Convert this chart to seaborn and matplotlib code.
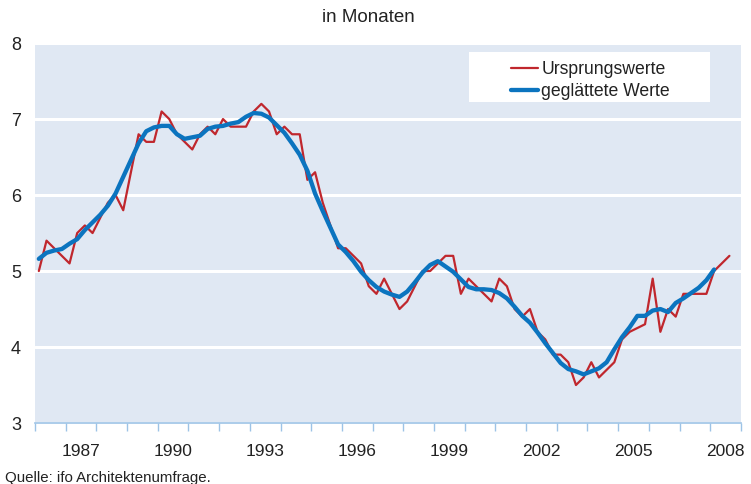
import numpy as np
import pandas as pd
import matplotlib
matplotlib.use('Agg')
import matplotlib.pyplot as plt
import seaborn as sns
from matplotlib.patches import Rectangle

# quarterly values, 1986 Q1 .. 2008 Q3 (raw) / 2008 Q1 (smoothed)
start_year = 1986
ursprung = [5.0, 5.4, 5.3, 5.2, 5.1, 5.5, 5.6, 5.5, 5.7, 5.9,
            6.0, 5.8, 6.3, 6.8, 6.7, 6.7, 7.1, 7.0, 6.8, 6.7,
            6.6, 6.8, 6.9, 6.8, 7.0, 6.9, 6.9, 6.9, 7.1, 7.2,
            7.1, 6.8, 6.9, 6.8, 6.8, 6.2, 6.3, 5.9, 5.6, 5.3,
            5.3, 5.2, 5.1, 4.8, 4.7, 4.9, 4.7, 4.5, 4.6, 4.8,
            5.0, 5.0, 5.1, 5.2, 5.2, 4.7, 4.9, 4.8, 4.7, 4.6,
            4.9, 4.8, 4.5, 4.4, 4.5, 4.2, 4.1, 3.9, 3.9, 3.8,
            3.5, 3.6, 3.8, 3.6, 3.7, 3.8, 4.1, 4.2, 4.25, 4.3,
            4.9, 4.2, 4.5, 4.4, 4.7, 4.7, 4.7, 4.7, 5.0, 5.1, 5.2]
geglaettet = [5.16, 5.24, 5.27, 5.29, 5.36, 5.42, 5.54, 5.64, 5.74, 5.86,
              6.02, 6.24, 6.46, 6.68, 6.84, 6.89, 6.91, 6.91, 6.80, 6.74,
              6.76, 6.78, 6.87, 6.90, 6.91, 6.94, 6.96, 7.03, 7.08, 7.07,
              7.02, 6.92, 6.82, 6.68, 6.53, 6.32, 6.02, 5.79, 5.57, 5.35,
              5.25, 5.13, 4.99, 4.88, 4.79, 4.73, 4.69, 4.66, 4.73, 4.85,
              4.98, 5.08, 5.13, 5.06, 4.99, 4.89, 4.79, 4.76, 4.76, 4.75,
              4.71, 4.64, 4.53, 4.41, 4.32, 4.19, 4.05, 3.92, 3.79, 3.71,
              3.68, 3.64, 3.68, 3.72, 3.80, 3.97, 4.13, 4.26, 4.41, 4.41,
              4.48, 4.50, 4.46, 4.58, 4.64, 4.71, 4.78, 4.88, 5.02]
year_labels = ['1987', '1990', '1993', '1996', '1999', '2002', '2005', '2008']
y_ticks = [3, 4, 5, 6, 7, 8]

# quarter mid points
t_raw = [start_year + (i + 0.5) / 4 for i in range(len(ursprung))]
t_smooth = [start_year + (i + 0.5) / 4 for i in range(len(geglaettet))]
df_raw = pd.DataFrame({'t': t_raw, 'v': ursprung})
df_smooth = pd.DataFrame({'t': t_smooth, 'v': geglaettet})

sns.set_style('darkgrid', {'axes.facecolor': '#E0E8F3', 'grid.color': 'white'})
plt.rcParams['font.family'] = ['Liberation Sans', 'DejaVu Sans']
text_col = '#222222'
tick_col = '#9DC3E6'

fig = plt.figure(figsize=(7.51, 4.84), dpi=100)
ax = fig.add_axes([0.0466, 0.126, 0.94, 0.785])

sns.lineplot(data=df_raw, x='t', y='v', ax=ax, color='#C0272D', lw=1.6,
             label='Ursprungswerte', zorder=3)
sns.lineplot(data=df_smooth, x='t', y='v', ax=ax, color='#0B74BF', lw=3.1,
             label='geglättete Werte', zorder=4)

ax.set_xlim(1986, 2009)
ax.set_ylim(3, 8)
ax.set_xlabel('')
ax.set_ylabel('')
ax.set_axisbelow(True)
ax.xaxis.grid(False)
ax.yaxis.grid(True, color='white', lw=2.2)

ax.set_xticks([int(y) + 0.5 for y in year_labels])
ax.set_xticklabels(year_labels)
ax.set_xticks(np.arange(1986, 2010), minor=True)
ax.tick_params(axis='x', which='major', length=0, pad=15, labelsize=12.5, labelcolor=text_col)
ax.tick_params(axis='x', which='minor', length=6, width=1, color=tick_col, direction='out', bottom=True)
ax.set_yticks(y_ticks)
ax.tick_params(axis='y', length=0, pad=10, labelsize=13, labelcolor=text_col)

for s in ['top', 'right', 'left']:
    ax.spines[s].set_visible(False)
ax.spines['bottom'].set_visible(True)
ax.spines['bottom'].set_color(tick_col)
ax.spines['bottom'].set_linewidth(1.2)

# white legend box
ax.add_patch(Rectangle((0.615, 0.845), 0.341, 0.131, transform=ax.transAxes,
                       facecolor='white', edgecolor='none', zorder=2))
leg = ax.legend(loc='upper left', bbox_to_anchor=(0.674, 0.952), frameon=False,
                borderpad=0, borderaxespad=0, handlelength=1.55, handletextpad=0.17,
                labelspacing=0.25, fontsize=12.7)
for txt in leg.get_texts():
    txt.set_color(text_col)

fig.text(0.49, 0.964, 'in Monaten', ha='center', va='center', fontsize=13.5, color=text_col)
fig.text(0.007, 0.004, 'Quelle: ifo Architektenumfrage.', ha='left', va='baseline',
         fontsize=10.8, color=text_col)

fig.savefig('out.png', dpi=100)
